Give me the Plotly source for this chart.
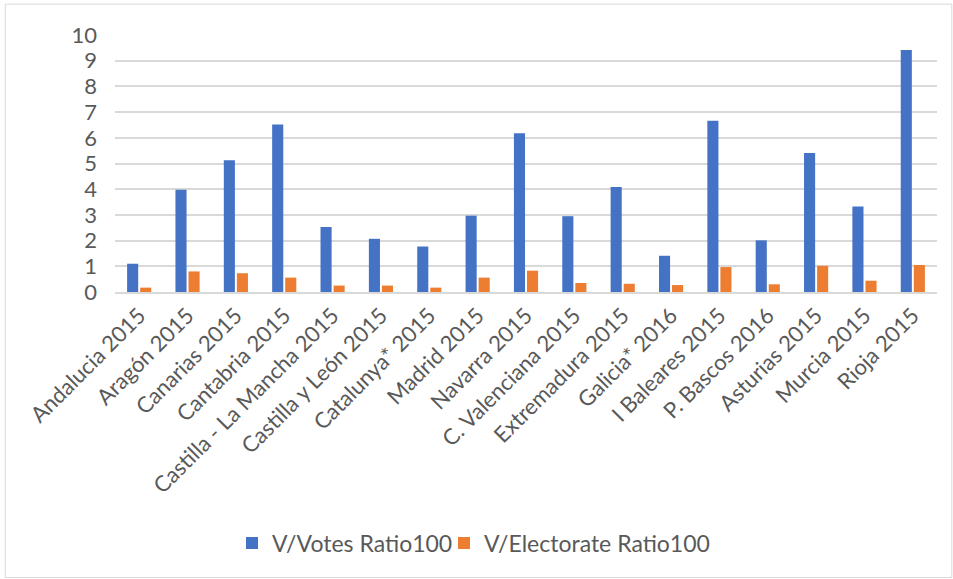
import plotly.graph_objects as go

categories = ["Andalucia 2015", "Aragón 2015", "Canarias 2015", "Cantabria 2015",
              "Castilla - La Mancha 2015", "Castilla y León 2015", "Catalunya* 2015",
              "Madrid 2015", "Navarra 2015", "C. Valenciana 2015", "Extremadura 2015",
              "Galicia* 2016", "I Baleares 2015", "P. Bascos 2016", "Asturias 2015",
              "Murcia 2015", "Rioja 2015"]
votes_ratio = [1.10, 3.98, 5.13, 6.52, 2.53, 2.07, 1.77, 2.97, 6.18, 2.95, 4.09,
               1.41, 6.66, 2.01, 5.41, 3.33, 9.42]
electorate_ratio = [0.17, 0.80, 0.73, 0.56, 0.25, 0.25, 0.17, 0.56, 0.83, 0.35, 0.32,
                    0.27, 0.97, 0.30, 1.02, 0.44, 1.05]
y_ticks = list(range(0, 11))

FONT = "Lato"
TXT = "#595959"

fig = go.Figure()
fig.add_trace(go.Bar(x=categories, y=votes_ratio, name="V/Votes Ratio100",
                     marker=dict(color="#4472C4", line=dict(width=0)), legend="legend"))
fig.add_trace(go.Bar(x=categories, y=electorate_ratio, name="V/Electorate Ratio100",
                     marker=dict(color="#ED7D31", line=dict(width=0)), legend="legend2"))

leg_common = dict(orientation="h", xanchor="left", y=-0.977, yanchor="middle",
                  font=dict(family=FONT, size=23, color=TXT), itemwidth=30,
                  bgcolor="rgba(0,0,0,0)")

fig.update_layout(
    width=953, height=579,
    margin=dict(l=115, r=16, t=35, b=287),
    paper_bgcolor="white", plot_bgcolor="white",
    barmode="group", bargap=0.46, bargroupgap=0.15,
    font=dict(family=FONT, color=TXT, size=22),
    showlegend=True,
    legend=dict(x=(254 - 22 - 115) / 822, **leg_common),
    legend2=dict(x=(466 - 22 - 115) / 822, **leg_common),
    xaxis=dict(tickangle=-45, showgrid=False, showline=True, linecolor="#d9d9d9",
               linewidth=2, ticks="", tickfont=dict(size=22, color=TXT, family=FONT)),
    yaxis=dict(range=[0, 10], tickvals=y_ticks, showgrid=True, gridcolor="#d9d9d9",
               gridwidth=2, zeroline=False, showline=False, ticks="",
               ticklabelstandoff=17,
               tickfont=dict(size=22, color=TXT, family=FONT)),
    shapes=[dict(type="rect", xref="paper", yref="paper",
                 x0=-0.1335, x1=1.018, y0=-1.111, y1=1.12,
                 line=dict(color="#d9d9d9", width=1))],
)

fig.write_html("out.html")
